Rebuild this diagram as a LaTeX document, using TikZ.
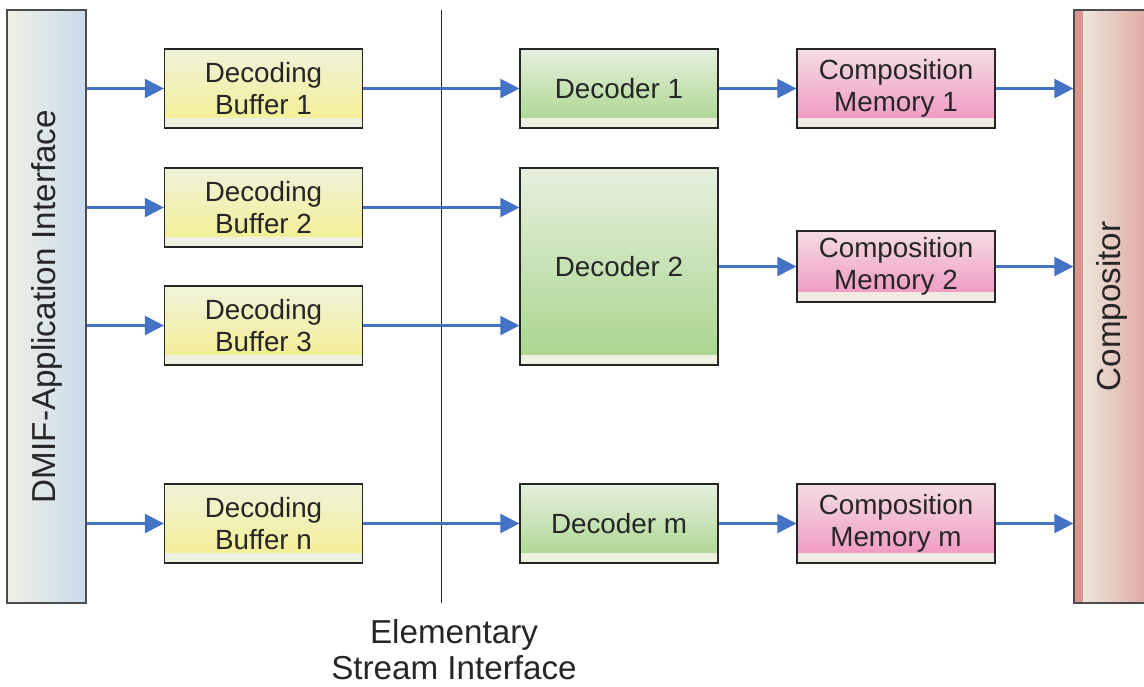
\documentclass[tikz,border=0pt]{standalone}
\usepackage{fontspec}
\setmainfont{Liberation Sans}
\usetikzlibrary{arrows.meta, calc}

\definecolor{flowblue}{HTML}{4472C4}
\definecolor{bufTop}{HTML}{EFF3DA}
\definecolor{bufBot}{HTML}{F5EE8E}
\definecolor{decTop}{HTML}{E6F0DE}
\definecolor{decBot}{HTML}{A8D48B}
\definecolor{memTop}{HTML}{F3DDE3}
\definecolor{memBot}{HTML}{F092C0}
\definecolor{bandCol}{HTML}{EEF0E0}
\definecolor{memBand}{HTML}{F0EAE2}
\definecolor{dmifL}{HTML}{EEF0E6}
\definecolor{dmifR}{HTML}{CBDBEC}
\definecolor{compL}{HTML}{EFEEE2}
\definecolor{compR}{HTML}{DDA7A1}
\definecolor{compStrip}{HTML}{D99690}

\tikzset{
  block/.style={draw=black!85, line width=0.6pt, minimum width=99pt,
    minimum height=39.5pt, inner sep=0pt, align=center, text=black!85,
    font=\fontsize{13.9}{16}\selectfont},
  band/.style={path picture={\fill[#1] (path picture bounding box.south west)
    rectangle ([yshift=5pt]path picture bounding box.south east);}},
  bufbox/.style={block, top color=bufTop, bottom color=bufBot, band=bandCol},
  decbox/.style={block, top color=decTop, bottom color=decBot, band=bandCol},
  membox/.style={block, top color=memTop, bottom color=memBot, band=memBand},
  bigbar/.style={draw=black!70, line width=0.6pt, inner sep=0pt,
    minimum height=296.5pt},
  sidelabel/.style={rotate=90, text=black!85, font=\fontsize{16.6}{18}\selectfont},
  flow/.style={-{Triangle[length=9.5pt,width=9.5pt]}, draw=flowblue,
    line width=1.1pt},
}

\begin{document}
\begin{tikzpicture}[x=0.5pt, y=-0.5pt]
	\useasboundingbox (0,0) rectangle (1144,686);
	
	% ---- side bars ----
	\node[bigbar, minimum width=39.5pt, left color=dmifL, right color=dmifR,
	label={[sidelabel]center:DMIF-Application Interface}]
	(dmif) at (46.5,306.5) {};
	\node[bigbar, minimum width=38pt, left color=compL, right color=compR,
	path picture={\fill[compStrip] (path picture bounding box.south west)
		rectangle ([xshift=4.5pt]path picture bounding box.north west);},
	label={[sidelabel]center:Compositor}]
	(comp) at (1112,306.5) {};
	
	% ---- elementary stream interface ----
	\draw[black!85, line width=0.5pt] (441,10) -- (441,603);
	\node[align=center, text=black!85, font=\fontsize{16.6}{18}\selectfont]
	(esi) at (454,650) {Elementary\\Stream Interface};
	
	% ---- decoding buffers ----
	\node[bufbox] (buf1) at (263.5,88.5) {Decoding\\Buffer 1};
	\node[bufbox] (buf2) at (263.5,207.5) {Decoding\\Buffer 2};
	\node[bufbox] (buf3) at (263.5,325.5) {Decoding\\Buffer 3};
	\node[bufbox] (bufn) at (263.5,523.5) {Decoding\\Buffer n};
	
	% ---- decoders ----
	\node[decbox] (dec1) at (619,88.5) {Decoder 1};
	\node[decbox, minimum height=98.5pt] (dec2) at (619,266.5) {Decoder 2};
	\node[decbox] (decm) at (619,523.5) {Decoder m};
	
	% ---- composition memories ----
	\node[membox] (mem1) at (896,88.5) {Composition\\Memory 1};
	\node[membox, minimum height=35.5pt] (mem2) at (896,266.5) {Composition\\Memory 2};
	\node[membox] (memm) at (896,523.5) {Composition\\Memory m};
	
	% ---- data flow ----
	\foreach \b in {buf1,buf2,buf3,bufn}
	\draw[flow] (dmif.east |- \b) -- (\b);
	\draw[flow] (buf1) -- (dec1);
	\draw[flow] (buf2) -- (buf2 -| dec2.west);
	\draw[flow] (buf3) -- (buf3 -| dec2.west);
	\draw[flow] (bufn) -- (decm);
	\draw[flow] (dec1) -- (mem1);
	\draw[flow] (dec2) -- (mem2);
	\draw[flow] (decm) -- (memm);
	\foreach \m in {mem1,mem2,memm}
	\draw[flow] (\m) -- (\m -| comp.west);
	
\end{tikzpicture}
\end{document}
